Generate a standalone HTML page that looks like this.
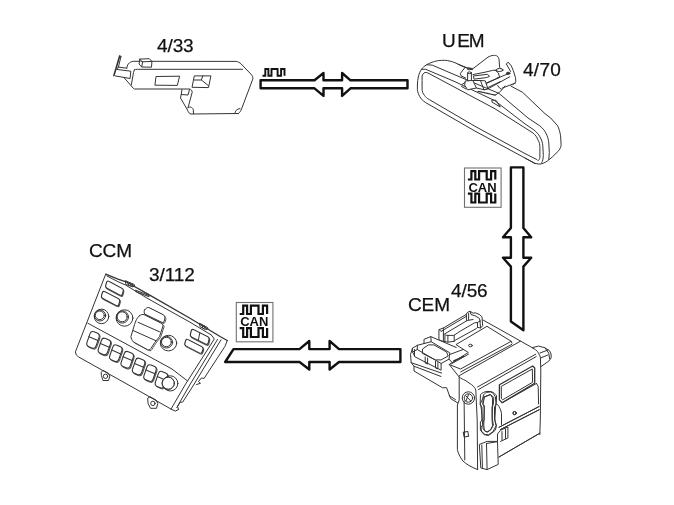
<!DOCTYPE html>
<html><head><meta charset="utf-8"><style>
html,body{margin:0;padding:0;background:#fff;width:674px;height:505px;overflow:hidden}
.t{position:absolute;will-change:transform;-webkit-text-stroke:0.25px #111;font-family:"Liberation Sans",sans-serif;font-size:19px;line-height:1;color:#111;white-space:nowrap;letter-spacing:-0.1px}
svg{position:absolute;left:0;top:0}
</style></head><body>
<svg width="674" height="505" viewBox="0 0 674 505" style="will-change:transform">
<defs>
<g id="can">
<rect x="0.5" y="0.5" width="36.6" height="39.3" fill="#fff" stroke="#707070" stroke-width="1.1"/>
<polyline points="3.9,12 7.4,12 7.4,3.6 11.3,3.6 11.3,12 15.1,12 15.1,3.6 22.7,3.6 22.7,12 27.1,12 27.1,3.6 31.3,3.6 31.3,12" fill="none" stroke="#111" stroke-width="2.2" stroke-linejoin="miter"/>
<polyline points="3.9,26.1 7.4,26.1 7.4,35 11.3,35 11.3,26.1 15.1,26.1 15.1,35 22.7,35 22.7,26.1 27.1,26.1 27.1,35 31.3,35 31.3,26.1" fill="none" stroke="#111" stroke-width="2.2" stroke-linejoin="miter"/>
<text x="18.5" y="24.1" text-anchor="middle" font-family="Liberation Sans" font-weight="bold" font-size="13" fill="#111">CAN</text>
</g>
<g id="btn">
<path d="M3,0 H6 Q9,0 9,3 V11.6 Q9,14.8 6,14.8 H3 Q0,14.8 0,11.8 V3 Q0,0 3,0 Z" transform="translate(0.9,0.5)" stroke="#555"/>
<path d="M3,0 H6 Q9,0 9,3 V11.6 Q9,14.8 6,14.8 H3 Q0,14.8 0,11.8 V3 Q0,0 3,0 Z" fill="#fff"/>
<path d="M0,6.2 H9"/>
</g>
<g id="rbtn">
<path d="M2,0 H14.6 Q16.6,0 16.6,2 V4.9 Q16.6,6.9 14.6,6.9 H2 Q0,6.9 0,4.9 V2 Q0,0 2,0 Z" transform="translate(0.7,0.6)" stroke="#555"/>
<path d="M2,0 H14.6 Q16.6,0 16.6,2 V4.9 Q16.6,6.9 14.6,6.9 H2 Q0,6.9 0,4.9 V2 Q0,0 2,0 Z" fill="#fff"/>
</g>
</defs>

<!-- ============ 4/33 module ============ -->
<g fill="none" stroke="#333" stroke-width="1" stroke-linejoin="round" stroke-linecap="round">
<path d="M119.7,56 L113.9,75.6" stroke-width="1.6"/>
<path d="M121,56.5 L118.4,67.1 M119.7,56 L121,56.5"/>
<path d="M118.4,67.1 L126.8,68.2 M118.4,67.1 L116.6,69.4 L130.8,71.2 L130.1,78.5 L115.2,75.9"/>
<path d="M126.8,68.2 C127.2,65 128.5,62 133.5,61.3 L235.9,61.4 C238,61.6 240,62.8 241,63.8 L251.6,74.9 C252.5,76 253,77.5 252.9,78.8 L241.8,108.3 C240.8,111 239.8,112.5 238.5,113.5"/>
<path d="M134.4,69.8 C135,69.4 136,69.3 137.5,69.3 L242.5,69.3"/>
<path d="M134.4,69.8 L133.5,72.5 L131.3,85"/>
<path d="M124.2,77.8 L133.5,88.5 L134.5,89 L189.5,89 C191,89.3 192.2,90.5 192.2,92.3 L188.1,107.5"/>
<path d="M182,89.5 L181.2,94.5 L188,95 L189.5,89.5"/>
<path d="M181.2,94.5 L180.5,98 L187.5,110 C188.5,112.5 189.5,113.8 191,114 L238.5,113.5"/>
<path d="M187.8,107.8 C190,106.2 192.3,107.2 193.2,109.3 L193.6,113.8"/>
<path d="M235,113.5 C235,111 236.5,109 240,108.6"/>
<path d="M156.4,76.5 L179.6,76.2 L177.3,85.4 L155.3,85.2 Z"/>
<path d="M194.7,75.9 L210.9,75.9 L208.5,87.6 L192.4,87.3 Z M194.3,80 L201.4,80 L202.8,75.9 M201.4,80 L208.5,85.7"/>
<path d="M139.9,59.1 L149.3,58.7 L151.9,61.4 L142.6,61.8 Z M142.6,61.8 L141.7,67 L151.5,67.2 L151.9,61.4 M139.9,59.1 L139,64 L141.7,67" fill="#fff"/>
</g>

<!-- ============ UEM mirror ============ -->
<g fill="none" stroke="#333" stroke-width="1" stroke-linejoin="round" stroke-linecap="round">
<path d="M472,69.6 L463.1,66.6 L455,62.7 C452,61.5 448,60.4 444.7,60.3 C440,60.3 436,60.8 434.6,61.5 C431,62.5 429,63.5 426.9,64.5 C424,66.5 422.5,67.8 421.5,69.3 C420,71.5 419.2,73.5 418.6,75.8 C417.8,79 417.4,82 417.4,85 L417.4,89.5 C417.6,92 418.5,94.5 419.8,96.6 C421,99 423,101 425.7,102.6 L475,131.1 L534.9,163.3 C537,164 539,164.2 541,164 C544,163.2 547,161.5 548.7,160 L552.7,156.6 L558.7,150.7 C560.3,148.5 561.1,146.5 561.1,144.7 L560.6,135.8 C559.8,131.5 559,128.5 557.7,125.9 L550.7,118 L545,113.7 L522.7,92.4 L510.8,86"/>
<path d="M422.1,80 L422.1,76 C422.5,74.5 423.5,73 425,72.5 C426,72.4 427,72.5 428,73 L495,108.8 L525,127.9 L532.9,132.9 C535.5,135 537,137.3 537.9,139.8 C539.5,142.5 539.9,145 539.9,147.7 L539.9,157.6 C539.5,159.3 538.8,160.3 537.9,160.6 L536.9,159.6 L525,153.6 L475,126.3 L429.3,99.6 C427,98.3 425.5,97 424.5,95.4 C423,93.5 422.1,91.5 422.1,89.5 Z"/>
<path d="M421.5,69.3 L425.7,69.3 L455,81.7 L495,100.8 L525,123.9 L533.9,129.9 C536.5,132 538.5,134.3 539.9,136.8 C541.5,139.5 542.5,142.5 542.8,145.7 L543.3,155.6 C543.2,159 542.6,161 541.8,162.6"/>
<path d="M426.9,64.8 L432.2,65.1 L455,74.9 L499,93.4 L528,118 L539.9,125.9 C542.5,128 544.5,130.5 545.8,132.9 C547.5,136 548.5,139.5 548.8,142.8 L549.3,152.7 L548.8,159.6"/>
<path d="M525,158.1 L534.9,163.5"/>
<!-- mount -->
<path d="M472.3,69.2 L488,57.1 C489.5,56.2 491.5,55.5 493.3,55.4 C495,55.3 496,55.5 496.8,55.9 C497.8,56.4 498.2,57 498.5,57.6 C499,59 499.2,60 499.2,61.1 L499.6,67.3 L500.9,68.7 L495.4,70.1 L485,72.2 L472.9,74.6 Z" fill="#fff" stroke="none"/>
<path d="M472.3,69.2 L488,57.1 C489.5,56.2 491.5,55.5 493.3,55.4 C495,55.3 496,55.5 496.8,55.9 C497.8,56.4 498.2,57 498.5,57.6 C499,59 499.2,60 499.2,61.1 L499.6,67.3 L500.9,68.7"/>
<path d="M458,64.2 L466.9,67.7 L472.3,69.2"/>
<path d="M465.1,67.4 L460.4,73.4 L461,75.8 L465.7,78.1"/>
<ellipse cx="469.6" cy="68.9" rx="2.6" ry="0.9"/>
<path d="M472.9,74.6 L485,72.2 L492.6,70.4 L495.4,70.1"/>
<path d="M473.8,75.9 L487.6,74.3 L489.5,76.4 L486.3,77.6 L474.4,79.1 Z" fill="#fff"/>
<path d="M467.6,73 L467.6,80.9 M471.4,73 L471.4,80.9" fill="#fff"/>
<ellipse cx="469.5" cy="72.8" rx="1.9" ry="0.9" fill="#fff"/>
<path d="M465.7,80.9 L472.8,80.5 L476.4,88 L467.5,89.8 L464.8,85.4 Z" fill="#fff"/>
<path d="M480.8,80.5 L485.3,80.9 L488,88.9 L484.4,89.8 Z"/>
<path d="M476.4,88 L484.4,89.8 M472.8,80.5 L480.8,80.5"/>
<path d="M486.2,83.6 L499.5,77.3 M488,87.5 L500.5,81.5"/>
<path d="M506.5,63.9 L508.2,62.1 L511.3,65.9 L513.4,70.8 L515.5,77.7 L515.8,81.9 L512.7,85 M506.5,64.2 L510.6,71.5"/>
<ellipse cx="499.6" cy="70" rx="3.4" ry="1.5"/>
<path d="M495.2,70.3 L498.4,72.9 L499.6,77.3 L497.1,78 M497.7,85.5 L499.6,88.1 L501.5,89.3"/>
<ellipse cx="508.2" cy="73.3" rx="1.8" ry="1.1" fill="#333"/>
<path d="M486.3,83 L508.5,73.5 M488.2,88.7 L509.8,76.7 M502.2,88.1 L515.5,83"/>
<path d="M495.1,95.1 L498.9,92.8 L501.8,89.9 L505,86"/>
<path d="M478,91.3 L495.1,95.1" stroke-dasharray="0.9 0.5" stroke-width="1.2"/>
<path d="M492.3,99.9 L496.1,100.4 L500.3,107 L492.3,102.3 Z"/>
<path d="M462,84.5 L465,82.5 M461.5,86.5 L466,89"/>
</g>

<!-- ============ CCM ============ -->
<g fill="none" stroke="#333" stroke-width="1" stroke-linejoin="round" stroke-linecap="round">
<path d="M105.7,274.2 L118,279.1 L126,281.8 L148,294.1 L190,318.3 L220.5,336.7 L227.3,340.5" stroke-width="1.3"/>
<path d="M227.3,340.5 L225,346.3 L204.1,378.4 L201.4,378 L198.5,381.5 L200.5,383.3 L196.5,384.5"/>
<path d="M105.7,274.2 L75.4,351.9 Q75.6,355.5 78.7,357 L140,391.4 L171,409.1 L175.4,411.1 L178.5,409.5"/>
<path d="M106.9,276 L118,281.7 L125.7,285.1 L148,298.7 L190,322.2 L211.3,335"/>
<path d="M211.3,335 L214.3,339 L185,385 L171,409.1 M217.5,339.5 L189.7,385 L176.8,407.5 M221,339.8 L193.6,385 L182.6,402.2 L180.2,402.2 L177.6,406.5 L178.5,409.5"/>
<path d="M87.8,323.2 L141,352 L172,369 L187.2,380.7"/>
<use href="#rbtn" transform="matrix(1,0.54,-0.3,1,107.2,280.3)"/>
<use href="#rbtn" transform="matrix(1.04,0.54,-0.3,1,103,290.6)"/>
<use href="#rbtn" transform="matrix(1.07,0.54,-0.28,1.07,191.8,328.7)"/><path d="M199.8,333 L198.3,340.2"/>
<use href="#rbtn" transform="matrix(1.04,0.54,-0.3,0.93,186.3,338.6)"/>
<path d="M125.7,280.8 L134.3,284.6 L134.7,286 L132.8,286.9 L126.2,284.6 Z M127.5,281.8 L128.5,285.2 M130,282.8 L130.8,286 M132.3,283.8 L132.8,286.5"/>
<path d="M135.7,290.3 L148.5,295.2 L149,296.6 L136.3,292 Z" stroke-dasharray="1 0.4"/>
<path d="M199.8,323.4 L207.7,327.6 L207.9,329 L205.5,329.6 L200.3,326.8 Z M202,324.8 L202.5,327.8 M204.5,326 L205,329"/>
<ellipse cx="101.5" cy="316.4" rx="7.3" ry="7.3"/>
<ellipse cx="100" cy="315.5" rx="5.7" ry="5.5"/>
<ellipse cx="99.8" cy="315.3" rx="4.5" ry="4.3"/>
<ellipse cx="124.5" cy="318" rx="8.4" ry="8.2"/>
<ellipse cx="122.4" cy="317" rx="6.1" ry="6.1"/>
<ellipse cx="122.2" cy="316.8" rx="5" ry="5"/>
<ellipse cx="168.5" cy="343.1" rx="8.2" ry="7.8"/>
<ellipse cx="166.6" cy="342.2" rx="6" ry="5.8"/>
<ellipse cx="166.4" cy="342" rx="4.9" ry="4.7"/>
<path transform="translate(1,0.7)" stroke="#555" d="M144.6,309.9 C146,308 147.5,307.3 148.8,307.5 L163,314.6 C164.5,315.8 165,317.3 164.8,318.8 C164.5,320.5 164,322 163,322.9 L144.6,314 C144,312.5 144,311 144.6,309.9 Z"/>
<path fill="#fff" d="M144.6,309.9 C146,308 147.5,307.3 148.8,307.5 L163,314.6 C164.5,315.8 165,317.3 164.8,318.8 C164.5,320.5 164,322 163,322.9 L144.6,314 C144,312.5 144,311 144.6,309.9 Z"/>
<path transform="translate(1.1,0.8)" stroke="#555" d="M139.3,315.8 C141,314.6 142.5,314.2 144,314.6 L160.6,322.9 C162,323.8 163,324.8 163,325.9 L159.5,336.6 L154.7,342.5 C152.5,346 151,348.5 150,349.7 C149,350 148,349.9 147.6,349.7 L133.3,341.9 C132,340.5 131.2,338.5 130.9,336.6 L134.5,324.7 C135.5,321 137,318 139.3,315.8 Z"/>
<path fill="#fff" d="M139.3,315.8 C141,314.6 142.5,314.2 144,314.6 L160.6,322.9 C162,323.8 163,324.8 163,325.9 L159.5,336.6 L154.7,342.5 C152.5,346 151,348.5 150,349.7 C149,350 148,349.9 147.6,349.7 L133.3,341.9 C132,340.5 131.2,338.5 130.9,336.6 L134.5,324.7 C135.5,321 137,318 139.3,315.8 Z"/>
<path d="M138.1,322.3 L159.5,331.8 M133.3,330.6 L155.9,340.7"/>
<use href="#btn" transform="matrix(1,0.42,-0.35,1,91.1,330.6)"/>
<use href="#btn" transform="matrix(1,0.42,-0.35,1,102.5,337.2)"/>
<use href="#btn" transform="matrix(1,0.42,-0.35,1,113.9,343.9)"/>
<use href="#btn" transform="matrix(1,0.42,-0.35,1,125.3,350.5)"/>
<use href="#btn" transform="matrix(1,0.42,-0.35,1,136.7,357.2)"/>
<use href="#btn" transform="matrix(1,0.42,-0.35,1,148.1,363.8)"/>
<use href="#btn" transform="matrix(1,0.42,-0.35,1,159.5,370.4)"/>
<ellipse cx="168.2" cy="383.3" rx="6.2" ry="6.2" fill="#fff"/>
<ellipse cx="170.3" cy="383.4" rx="7.6" ry="7.6" fill="none"/>
<ellipse cx="168.3" cy="383.2" rx="6" ry="6" fill="#fff"/>
<path d="M101.5,372 L103,370.4 L108,373 L109.9,376 L108.5,380.5 L103,380.5 L101.5,376 Z"/>
<circle cx="105.5" cy="376.3" r="2.2"/>
<path d="M148,398 L150,396.7 L156,400 L157.8,403.5 L156.5,408.3 L150.5,408.3 L148.3,404 Z"/>
<circle cx="152.9" cy="403.4" r="2.2"/>
</g>

<!-- ============ CEM ============ -->
<g fill="none" stroke="#333" stroke-width="1" stroke-linejoin="round" stroke-linecap="round">
<!-- back-right edge of top face & right edge -->
<path d="M483,320 L520.6,341.1 L531.7,347.4 L535.7,349.8 C537.2,351 538.2,352.4 538.8,353.8 C539.7,355.2 540.2,356.4 540.4,357.7 L540.8,370 L540.3,420 L539.8,434.5"/>
<!-- top face front edge + bevel -->
<path d="M459.5,375.5 L520.6,341.1"/>
<!-- front face grooves -->
<path d="M477.5,387 L535.7,354.2 M478.5,389.5 L536.2,356.6"/>
<!-- raised panel on top -->
<path d="M487.3,326.5 L511.2,341.3 L460.5,369 L449.2,364.5 L468.3,352.5 L456.3,344.8 Z"/>
<path d="M460.8,371.8 L511.8,344.4 M511.2,341.3 L512,343.2 M451.5,363.8 L468.5,354.2"/>
<path d="M453.5,361 L463.5,356.5" stroke-dasharray="0.8 0.5" stroke-width="1.3"/>
<ellipse cx="470.4" cy="345.5" rx="1.9" ry="1.3"/>
<!-- left wing top step lines -->
<path d="M430.8,336.6 L456.3,347.5 M449.8,354.5 L463,349.5 M449,359.1 L452,362.5 M449.2,364.5 L459.2,377"/>
<!-- front-left column -->
<path d="M459.2,377 C461,378.6 463,379.5 465,380.2 L471.6,384.7 C474,386.5 475.3,388.2 475.8,390.2 L477.2,420 L477.6,469.6"/>
<path d="M459.2,377 L459.2,400 L457.4,405 L457.4,449.5 C458,453 460,457 462.9,461 C466,464 471,467 477.6,469.6"/>
<path d="M464.1,401 L464.8,460"/>
<rect x="463.6" y="431.8" width="4.6" height="4.8" transform="rotate(-10 466 434)"/>
<!-- knob -->
<circle cx="468.4" cy="398" r="6.2"/>
<circle cx="468.4" cy="398" r="4.2"/>
<path d="M465.5,395.5 L470.8,401 M466,401 L468.5,394.5"/>
<!-- window -->
<path d="M499.4,384.7 L532.7,366 L534.7,368 L534.7,383.3 L502.2,402.7 L499.4,399.9 Z" stroke-width="1.3"/>
<path d="M501.6,386.2 L532.3,369 L532.6,382.3 L502.6,399.8 L501.6,398.5 Z"/>
<!-- below window panel -->
<path d="M502.2,402.7 L536.5,383.5 M536.5,383.5 L538.2,386.5 L538.6,404"/>
<circle cx="514.6" cy="413.1" r="1.6"/>
<path d="M499,427.3 L539.1,406.5 M500.5,429.5 L539.1,409.8 M499,457 L539.8,433.2"/>
<!-- vertical connector -->
<path d="M483.8,394.6 C484.8,393.2 486,392.6 487.1,392.4 L490.4,391.9 C491.8,392.3 492.9,393.1 493.7,394.1 L495.4,396.9 L495.9,402.4 L495.4,410.1 L494.8,420.1 L496.5,425.7 L495.4,430.1 L491.5,433.4 L488.2,435.6 L484.9,434.5 L481.5,431.2 L481,427.9 L482.6,424.5 L481.5,410.1 L480.4,403.5 L482.6,399.1 Z"/>
<path d="M484.9,396.9 L490.4,394.6 L492.6,398 L492.1,421.2 L492.6,425.7 L490.4,430.1 L487.1,432.3 L484.3,430.1 L483.8,425.7 L484.3,405.7 L483.2,404.6 Z"/>
<path d="M497.6,404.6 C499.5,407 501,410 501.5,413.5 L501.5,424.5"/>
<circle cx="514.6" cy="413.1" r="1.6"/>
<path d="M499,427.3 L539.1,406.5 M500.5,429.5 L539.1,409.8 M499,457 L539.8,433.2"/>
<!-- vertical connector -->
<path d="M480.7,394.4 C482.5,392.5 485,391.6 487,391.4 L491,391.6 C493.5,392.4 495.5,393.8 496.6,395.8 L496.2,405 L494.5,406.5 L494.5,418 L496,425.8 L493,431.7 L488.6,434.7 L484.1,434.7 L480.4,430.2 L480.4,422 L482,420 L482,407 L480.4,405 Z"/>
<path d="M483.5,397 L490.5,394.5 L493.8,397.5 L493.2,405 L492,407 L492.2,418 L493.4,425 L491,429.5 L487.8,431.5 L485.2,431.5 L483,428.5 L483,422 L484.2,419.5 L484.2,407 L483,404.5 Z"/>
<!-- bottom block -->
<path d="M479.7,444.3 L487.1,441.4 L497.5,441.4 L498.2,464.4 L487.1,469.6 L481.2,468.1 Z"/>
<path d="M486.5,443.5 L496.7,441.8 M486.5,443.5 L487.1,469.6 M481.8,445 L482.4,467.5"/>
<path d="M497.5,441.4 L497.5,434 L500.5,430.2 L507.9,427 L507.9,438 L500.5,441.4"/>
<path d="M502,431.5 L502,440 M505.5,429 L505.5,438.5"/>
<!-- connector 1 (top) -->
<path d="M439.3,329.5 L443.4,328 L466.4,314.3 L467.2,312.5 L470.1,311.3 L473.1,313.2 L475.3,312.8 L479.8,314.7 L482,316.9 L482.7,325.8 L480.5,328 L477.5,327.3 L476,328.8 L454.5,340.6 L454.2,341.4 L447.9,342.1 L443.4,341.4 L439.3,340 Z" fill="#fff"/>
<path d="M443.4,330 L466.4,316.3 M444.5,334 L467.2,320.5 L473,319.5"/>
<path d="M443.4,334.8 L447.9,335.4 L453.8,335.4 L460.5,331 L474.6,322.8 L477.5,322.5 L480,321"/>
<path d="M466.4,314.3 L466.4,320.6 M468.6,313.5 L468.6,320 M477.5,322.5 L477.5,327.3 M480,321 L480.5,328"/>
<path d="M443.4,328 L443.4,341.4 M444.9,336.2 L444.9,342 M447.9,335.4 L447.9,342.1 M454.2,335.5 L454.2,341.4 M439.3,329.5 L441,331.5 L443.4,330"/>
<path d="M470.1,311.3 L471,314.5 L475.5,316 L479.5,318.5 L480,321"/>
<!-- connector 2 (left) -->
<path d="M412.6,348.2 L417.3,345.3 L431.2,341.7 L449.8,352.8 L449,359.1 L441.1,363.5 L441.1,370.2 L414.9,356.8 L412.6,352 Z" fill="#fff"/>
<path d="M412.6,352 L417.3,349.5 L441.1,363.5 M417.3,345.3 L417.3,349.5"/>
<path d="M422.8,348.8 L428.4,344.9 L433.9,344.9 L446.6,352 L448.2,356 L441.1,359.9 L435.5,359.9 L422.8,353.6 Z"/>
<path d="M425.2,357 L425.2,363 L427.6,364 L427.6,358 M435.5,361.5 L435.5,368 L437.9,369 L437.9,362.5 M414.5,349.5 L414.5,356"/>
<path d="M424,343.5 L424,339.3 L430.8,336.6 L431.2,341.7"/>
<!-- left wing body -->
<path d="M412.6,348.2 L410.5,354.4 L411.2,362.7 L414,366.2 L414,371 L442.4,387.7 L446.6,387.7 L448.5,393 L450.7,398.7 L457.7,402.9"/>
<path d="M411.2,362.7 L441.7,373.1 M414,366.2 L441,376.5"/>
<path d="M449,395.5 L456,400" stroke-dasharray="1 0.7"/>
<!-- right cylinder -->
<path d="M532.1,347.7 L538.5,346.1 L544.8,347.7 L549.6,350.8 L551.1,354 L551.1,358 L548.8,361.1 L540.8,366.7"/>
<path d="M544.8,347.7 L548.8,353.2 L549.6,358.8 M540,353 L548,350 M540.5,358 L548,355"/>
</g>

<!-- ============ buses ============ -->
<g fill="none" stroke="#111" stroke-width="2.4" stroke-linejoin="round">
<path d="M260.6,80.3 H314.5 L323.5,73 V80.3 H342.1 V73 L350.5,80.3 H407.5 V88.3 H350.5 L342.1,95.9 V88.3 H323.5 V95.9 L314.5,88.3 H260.6 Z"/>
<path d="M510.9,167.4 H523.4 V227.9 L531.2,237.3 H523.4 V257.7 H531.2 L523.4,266.6 V330.2 L510.9,321.5 V266.6 L503,257.7 H510.9 V237.3 H503 L510.9,227.9 Z"/>
<path d="M233.5,349.1 H299.5 L309.3,341 V349.1 H329.6 V341 L339,349.1 H400.4 V362 H339 L329.6,369.5 V362 H309.3 V369.5 L299.5,362 H225.2 Z"/>
</g>
<polyline points="262.5,75.8 265.3,75.8 265.3,69 268.4,69 268.4,75.8 271.5,75.8 271.5,69 277.6,69 277.6,75.8 281.1,75.8 281.1,69 284.5,69 284.5,75.8" fill="none" stroke="#111" stroke-width="1.9"/>
<use href="#can" x="464" y="167.5"/>
<use href="#can" x="235.8" y="302"/>
</svg>
<div class="t" style="left:156.5px;top:36px">4/33</div>
<div class="t" style="left:441.5px;top:31.2px"><span style="letter-spacing:1.6px">U</span><span style="letter-spacing:-1.2px">E</span>M</div>
<div class="t" style="left:523px;top:60px;letter-spacing:0.3px">4/70</div>
<div class="t" style="left:89px;top:241.3px">CCM</div>
<div class="t" style="left:149px;top:265px">3/112</div>
<div class="t" style="left:451px;top:281.2px">4/56</div>
<div class="t" style="left:408px;top:295px">CEM</div>
</body></html>
